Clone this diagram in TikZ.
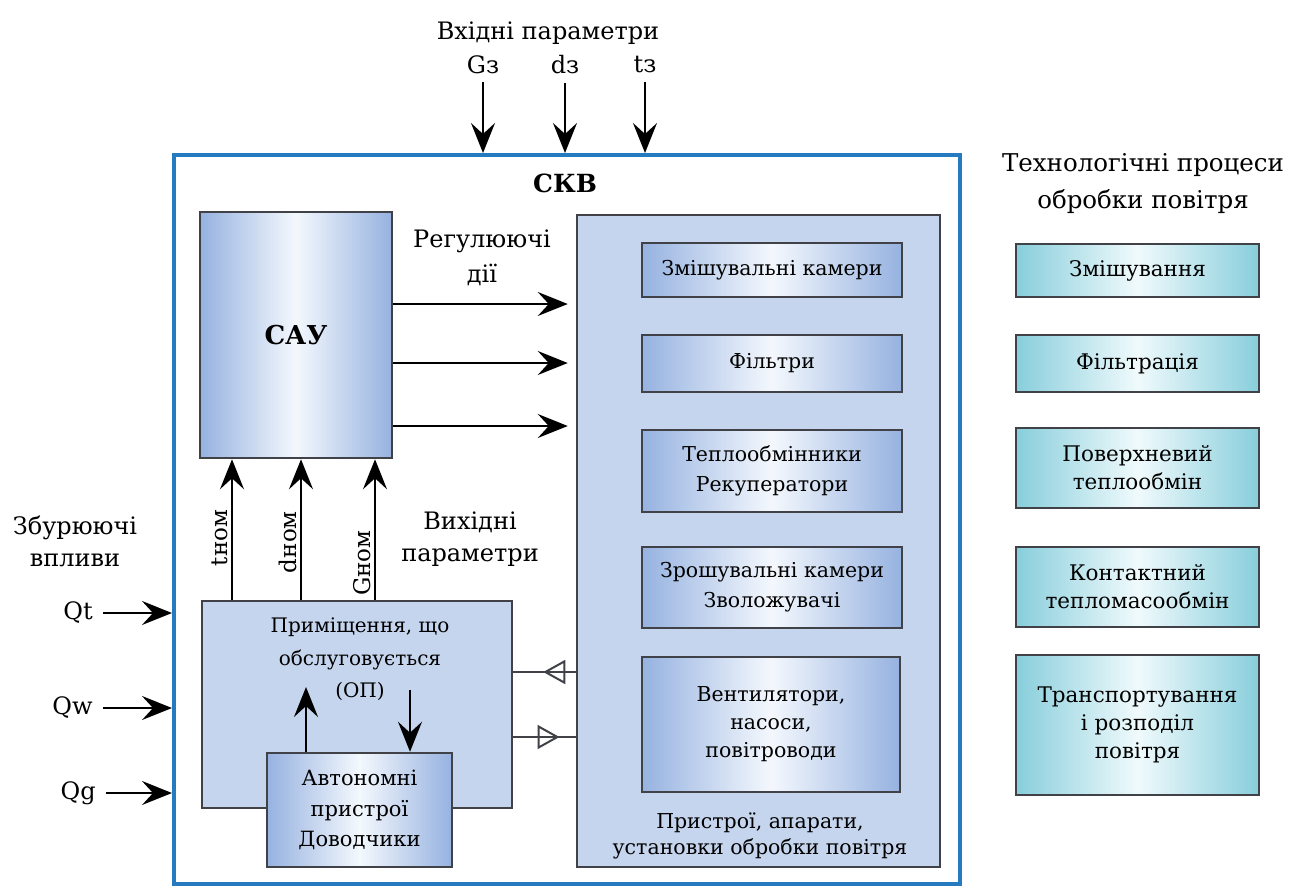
\documentclass[tikz,border=0pt]{standalone}
\usepackage{fontspec}
\setmainfont{DejaVu Serif}
\usetikzlibrary{arrows.meta,positioning,decorations.markings}
\definecolor{skvblue}{RGB}{38,122,192}
\definecolor{frame}{RGB}{64,66,72}
\definecolor{panelfill}{RGB}{198,213,238}
\definecolor{blueedge}{RGB}{150,178,224}
\definecolor{bluemid}{RGB}{244,248,253}
\definecolor{cyanedge}{RGB}{136,206,220}
\definecolor{cyanmid}{RGB}{240,250,252}

\begin{document}
\begin{tikzpicture}[x=1pt,y=-1pt,>={Stealth[length=30pt,width=24pt,inset=11pt]},line width=2pt,
  lbl/.style={align=center,font=\fontsize{24}{32}\selectfont},
  txt/.style={align=center,font=\fontsize{20}{30}\selectfont},
  head/.style={font=\bfseries\fontsize{25}{30}\selectfont},
  panel/.style={draw=frame,line width=2.5pt,fill=panelfill},
  unit/.style={draw=frame,line width=2.5pt,left color=blueedge,right color=blueedge,middle color=bluemid,align=center,font=\fontsize{20.5}{30}\selectfont},
  proc/.style={draw=frame,line width=2.5pt,left color=cyanedge,right color=cyanedge,middle color=cyanmid,align=center,font=\fontsize{21.5}{28}\selectfont,minimum width=243pt},
  openmark/.style={decoration={markings,mark=at position #1 with {\arrow{Triangle[open,length=22pt,width=24pt]}}},postaction={decorate}}]
\useasboundingbox (0,0) rectangle (1303,887);
\fill[white] (0,0) rectangle (1303,887);

% system frame
\node[draw=skvblue,line width=4pt,minimum width=786pt,minimum height=729pt] (skv) at (567,519.5) {};
\node[head] (skvlbl) at (565,183) {СКВ};

% inputs
\node[lbl] (inp) at (548,33) {Вхідні параметри};
\node[lbl] (gz) at (483,65) {Gз};
\node[lbl] (dz) at (565,65) {dз};
\node[lbl] (tz) at (645,65) {tз};
\foreach \v in {gz,dz,tz}{\draw[->,shorten <=4pt] (\v) -- (\v |- skv.north);}

% control
\node[unit,head,font=\bfseries\fontsize{26}{30}\selectfont,minimum width=192pt,minimum height=246pt] (sau) at (296,335) {САУ};
\node[lbl,font=\fontsize{24}{35}\selectfont] (reg) at (482,257.5) {Регулюючі\\дії};

% treatment units
\node[panel,minimum width=363pt,minimum height=652pt] (rp) at (758.5,541) {};
\node[unit,minimum width=260pt,minimum height=54pt] (mix) at (772,270) {Змішувальні камери};
\node[unit,minimum width=260pt,minimum height=57pt] (filt) at (772,363.5) {Фільтри};
\node[unit,minimum width=260pt,minimum height=82pt] (heat) at (772,471) {Теплообмінники\\Рекуператори};
\node[unit,minimum width=260pt,minimum height=81pt] (spray) at (772,587.5) {Зрошувальні камери\\Зволожувачі};
\node[unit,font=\fontsize{20.5}{28}\selectfont,minimum width=258pt,minimum height=135pt] (fans) at (771,724.5) {Вентилятори,\\насоси,\\повітроводи};
\node[txt,font=\fontsize{20.5}{26}\selectfont] (rplbl) at (760,835.5) {Пристрої, апарати,\\установки обробки повітря};
\foreach \y in {304,363,426}{\draw[->,shorten >=8pt] (sau.east |- 0,\y) -- (rp.west |- 0,\y);}

% room
\node[panel,minimum width=310pt,minimum height=207pt] (op) at (357,704.5) {};
\node[txt,font=\fontsize{20}{32.5}\selectfont] (oplbl) at (360,659.5) {Приміщення, що\\обслуговується\\(ОП)};
\node[unit,font=\fontsize{21}{30.5}\selectfont,minimum width=185pt,minimum height=114pt] (aut) at (359.5,810) {Автономні\\пристрої\\Доводчики};
\coordinate (opup) at (306,687);
\coordinate (opdn) at (410,690);
\draw[->] (aut.north -| opup) -- (opup);
\draw[->] (opdn) -- (aut.north -| opdn);
\draw[frame,openmark=0.52] (rp.west |- 0,672) -- (op.east |- 0,672);
\draw[frame,openmark=0.74] (op.east |- 0,737) -- (rp.west |- 0,737);

% outputs
\draw[->] (op.north -| 232,0) -- node[lbl,pos=0.44,rotate=90,anchor=south,font=\fontsize{23}{28}\selectfont] (tlbl) {tном} (sau.south -| 232,0);
\draw[->] (op.north -| 301,0) -- node[lbl,pos=0.41,rotate=90,anchor=south,font=\fontsize{23}{28}\selectfont] (dlbl) {dном} (sau.south -| 301,0);
\draw[->] (op.north -| 375,0) -- node[lbl,pos=0.26,rotate=90,anchor=south,font=\fontsize{23}{28}\selectfont] (glbl) {Gном} (sau.south -| 375,0);
\node[lbl] (outlbl) at (470,539) {Вихідні\\параметри};

% disturbances
\node[lbl] (dist) at (75,541) {Збурюючі\\впливи};
\node[lbl,anchor=east] (qt) at (97,613) {Qt};
\node[lbl,anchor=east] (qw) at (97,708) {Qw};
\node[lbl,anchor=east] (qg) at (100,793) {Qg};
\foreach \q in {qt,qw,qg}{\draw[->,shorten <=6pt] (\q) -- (\q -| skv.west);}

% processes
\node[lbl,font=\fontsize{24.5}{37}\selectfont] (techlbl) at (1143,183.5) {Технологічні процеси\\обробки повітря};
\node[proc,minimum height=53pt] (pmix) at (1137.5,270.5) {Змішування};
\node[proc,minimum height=57pt] (pfilt) at (1137.5,363.5) {Фільтрація};
\node[proc,minimum height=80pt] (psurf) at (1137.5,468) {Поверхневий\\теплообмін};
\node[proc,minimum height=80pt] (pcont) at (1137.5,587) {Контактний\\тепломасообмін};
\node[proc,minimum height=140pt] (ptrans) at (1137.5,725) {Транспортування\\і розподіл\\повітря};
\end{tikzpicture}
\end{document}
